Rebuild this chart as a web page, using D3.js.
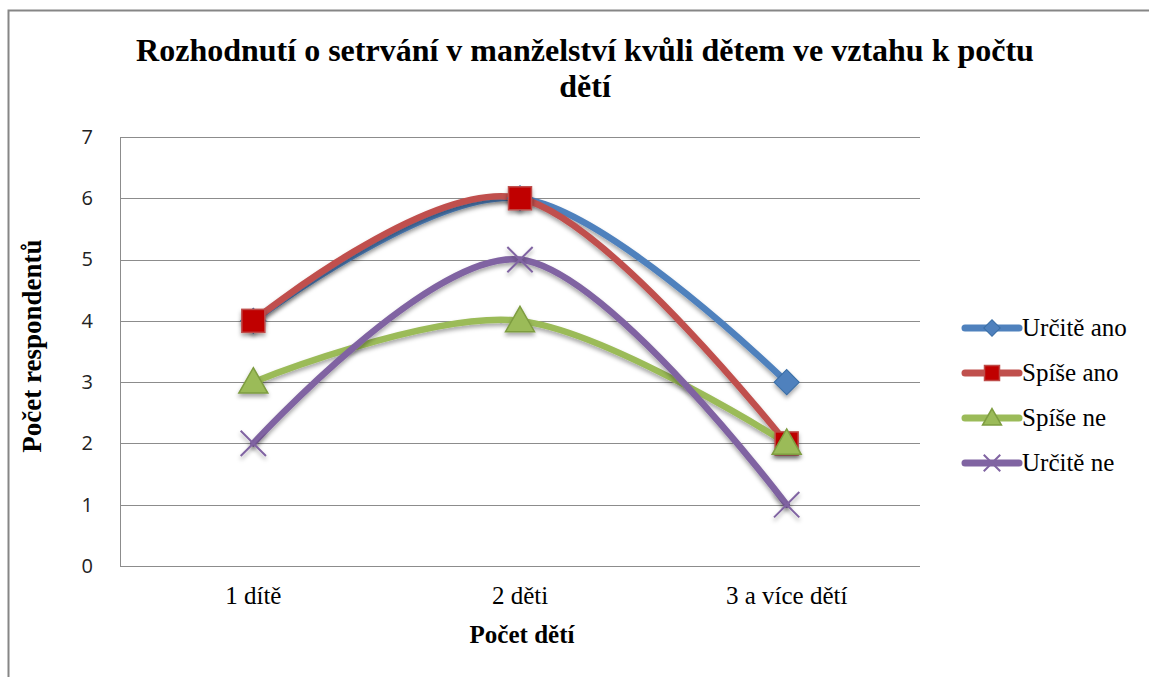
<!DOCTYPE html>
<html>
<head>
<meta charset="utf-8">
<script src="https://cdn.jsdelivr.net/npm/d3@7"></script>
<style>
  body { margin: 0; background: #fff; }
  svg { display: block; }
</style>
</head>
<body>
<div id="chart"></div>
<script>
const categories = ["1 dítě", "2 děti", "3 a více dětí"];
const seriesNames = ["Určitě ano", "Spíše ano", "Spíše ne", "Určitě ne"];
const urciteAno = [4, 6, 3];
const spiseAno = [4, 6, 2];
const spiseNe = [3, 4, 2];
const urciteNe = [2, 5, 1];
const yTicks = [0, 1, 2, 3, 4, 5, 6, 7];

const colors = ["#4F81BD", "#C0504D", "#9BBB59", "#8064A2"];
const markers = ["diamond", "square", "triangle", "cross"];
const values = [urciteAno, spiseAno, spiseNe, urciteNe];

const serif = "'Liberation Serif', 'Times New Roman', serif";
const W = 1149, H = 677;
const margin = { top: 137, right: 229, bottom: 111, left: 120 };
const innerW = W - margin.left - margin.right;
const innerH = H - margin.top - margin.bottom;

const svg = d3.select("#chart").append("svg").attr("width", W).attr("height", H);

const defs = svg.append("defs");
const filter = defs.append("filter").attr("id", "shadow").attr("x", "-50%").attr("y", "-50%").attr("width", "200%").attr("height", "200%");
filter.append("feDropShadow").attr("dx", 0).attr("dy", 3).attr("stdDeviation", 2).attr("flood-color", "#000").attr("flood-opacity", 0.35);

// outer chart frame
svg.append("rect")
  .attr("x", 8.5).attr("y", 10.5)
  .attr("width", W + 20).attr("height", H + 20)
  .attr("fill", "none").attr("stroke", "#868686").attr("stroke-width", 2);

// title
const title = svg.append("text")
  .attr("text-anchor", "middle")
  .style("font-family", serif)
  .style("font-weight", "bold")
  .style("font-size", "32px")
  .attr("fill", "#000");
title.append("tspan").attr("x", 585).attr("y", 61).text("Rozhodnutí o setrvání v manželství kvůli dětem ve vztahu k počtu");
title.append("tspan").attr("x", 585).attr("y", 97).text("dětí");

const g = svg.append("g").attr("transform", `translate(${margin.left},${margin.top})`);

const x = d3.scaleBand().domain(categories).range([0, innerW]);
const y = d3.scaleLinear().domain([0, 7]).range([innerH, 0]);

// gridlines
g.append("g")
  .selectAll("line")
  .data(yTicks)
  .enter()
  .append("line")
  .attr("x1", 0).attr("x2", innerW)
  .attr("y1", (d) => Math.round(y(d)) + 0.5)
  .attr("y2", (d) => Math.round(y(d)) + 0.5)
  .attr("stroke", "#8c8c8c").attr("stroke-width", 1);

// left axis line
g.append("line")
  .attr("x1", 0.5).attr("x2", 0.5)
  .attr("y1", 0).attr("y2", innerH)
  .attr("stroke", "#8c8c8c");

// y tick labels
const yAxis = g.append("g").call(d3.axisLeft(y).tickValues(yTicks).tickFormat(d3.format("d")).tickSize(0).tickPadding(27));
yAxis.select(".domain").remove();
yAxis.selectAll("text")
  .style("font-family", "'Open Sans', 'Liberation Sans', sans-serif")
  .style("font-size", "20px")
  .attr("fill", "#222");

// x tick labels
const xAxis = g.append("g").attr("transform", `translate(0,${innerH})`)
  .call(d3.axisBottom(x).tickSize(0).tickPadding(20));
xAxis.select(".domain").remove();
xAxis.selectAll("text")
  .style("font-family", serif)
  .style("font-size", "25px")
  .attr("fill", "#000");

// axis titles
svg.append("text")
  .attr("x", 522).attr("y", 643)
  .attr("text-anchor", "middle")
  .style("font-family", serif)
  .style("font-weight", "bold").style("font-size", "25px")
  .text("Počet dětí");

svg.append("text")
  .attr("transform", "translate(41,346) rotate(-90)")
  .attr("text-anchor", "middle")
  .style("font-family", serif)
  .style("font-weight", "bold").style("font-size", "27px")
  .text("Počet respondentů");

const cx = (i) => x(categories[i]) + x.bandwidth() / 2;
const line = d3.line()
  .x((d, i) => cx(i))
  .y((d) => y(d))
  .curve(d3.curveCardinal.tension(0));

function drawMarker(sel, type, color, size) {
  if (type === "diamond") {
    sel.append("path")
      .attr("d", d3.symbol().type(d3.symbolSquare).size(size * size * 0.6)())
      .attr("transform", "rotate(45)")
      .attr("fill", color).attr("stroke", "#3a6ea5").attr("stroke-width", 1);
  } else if (type === "square") {
    sel.append("rect")
      .attr("x", -size / 2).attr("y", -size / 2)
      .attr("width", size).attr("height", size)
      .attr("fill", "#C00000").attr("stroke", "#BE4B48").attr("stroke-width", 1.5);
  } else if (type === "triangle") {
    const s = size * 1.05;
    sel.append("path")
      .attr("d", `M0,${-s * 0.6}L${s * 0.6},${s * 0.45}L${-s * 0.6},${s * 0.45}Z`)
      .attr("fill", "#9BBB59").attr("stroke", "#7E9D40").attr("stroke-width", 1.5);
  } else {
    const s = size * 0.55;
    sel.append("path")
      .attr("d", `M${-s},${-s}L${s},${s}M${-s},${s}L${s},${-s}`)
      .attr("stroke", color).attr("stroke-width", 2).attr("fill", "none");
  }
}

values.forEach((vals, si) => {
  g.append("path")
    .datum(vals)
    .attr("d", line)
    .attr("fill", "none")
    .attr("stroke", colors[si])
    .attr("stroke-width", 6.5)
    .attr("stroke-linecap", "round")
    .attr("filter", "url(#shadow)");
});

values.forEach((vals, si) => {
  g.append("g")
    .selectAll("g")
    .data(vals)
    .enter()
    .append("g")
    .attr("transform", (d, i) => `translate(${cx(i)},${y(d)})`)
    .attr("filter", "url(#shadow)")
    .each(function () { drawMarker(d3.select(this), markers[si], colors[si], 23); });
});

// legend
const legend = svg.append("g").attr("transform", "translate(962,0)");
const legendY = [328, 373, 418, 463];
seriesNames.forEach((name, i) => {
  const row = legend.append("g").attr("transform", `translate(0,${legendY[i]})`);
  row.append("line")
    .attr("x1", 3).attr("x2", 57).attr("y1", 0).attr("y2", 0)
    .attr("stroke", colors[i]).attr("stroke-width", 7).attr("stroke-linecap", "round");
  const m = row.append("g").attr("transform", "translate(30,0)");
  drawMarker(m, markers[i], colors[i], 15);
  row.append("text")
    .attr("x", 60).attr("y", 8)
    .style("font-family", serif)
    .style("font-size", "25px")
    .text(name);
});
</script>
</body>
</html>
